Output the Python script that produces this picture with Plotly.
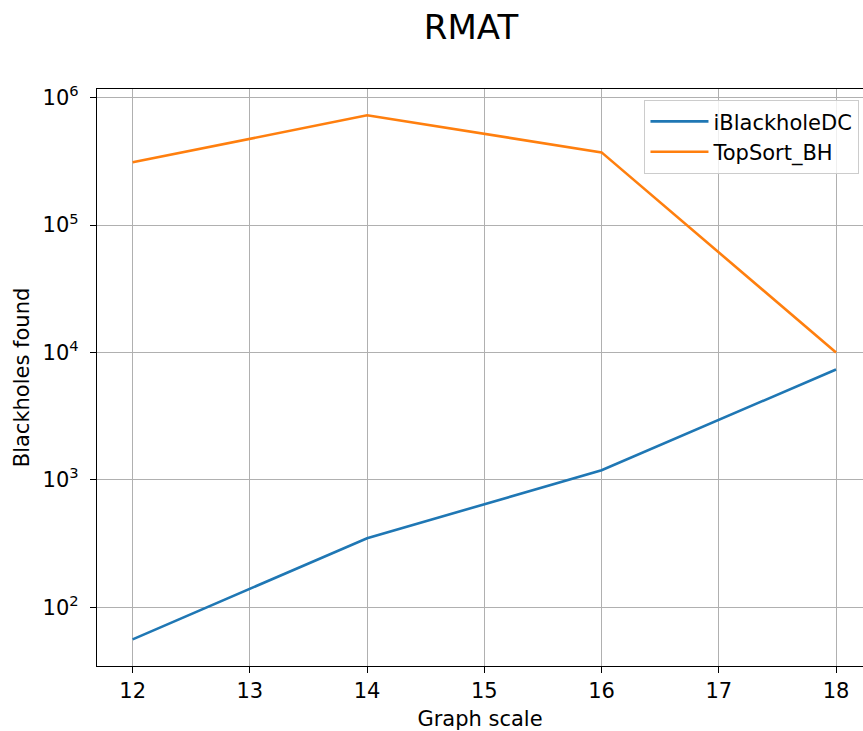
import plotly.graph_objects as go

scales = [12, 14, 16, 18]
iblackhole_dc = [56, 348, 1190, 7350]
topsort_bh = [311000, 727000, 372000, 10000]
x_ticks = [12, 13, 14, 15, 16, 17, 18]
y_ticks = [1e2, 1e3, 1e4, 1e5, 1e6]
y_tick_text = ["10<sup>2</sup>", "10<sup>3</sup>", "10<sup>4</sup>", "10<sup>5</sup>", "10<sup>6</sup>"]

fig = go.Figure()
fig.add_trace(go.Scatter(x=scales, y=iblackhole_dc, mode="lines", name="iBlackholeDC",
                         line=dict(color="#1f77b4", width=2.6)))
fig.add_trace(go.Scatter(x=scales, y=topsort_bh, mode="lines", name="TopSort_BH",
                         line=dict(color="#ff7f0e", width=2.6)))

font = "DejaVu Sans"
fs = 21
fig.update_layout(
    width=863, height=731,
    margin=dict(l=97, r=0, t=89, b=65),
    plot_bgcolor="white", paper_bgcolor="white",
    font=dict(family=font, size=fs, color="black"),
    title=dict(text="RMAT", x=471 / 863, xref="container", xanchor="center",
               y=1 - 27 / 731, yref="container",
               yanchor="middle", font=dict(family=font, size=34, color="black")),
    legend=dict(x=0.995, y=0.981, xanchor="right", yanchor="top",
                bgcolor="rgba(255,255,255,0.8)", bordercolor="#cccccc", borderwidth=1.3,
                font=dict(family=font, size=fs), tracegroupgap=0, itemwidth=58),
    showlegend=True,
)
fig.update_xaxes(range=[11.696, 18.23], tickvals=x_ticks, ticks="outside", ticklen=6,
                 tickwidth=1.3, tickcolor="black", showline=True, linecolor="black",
                 linewidth=1.3, mirror=True, tickfont=dict(family=font, size=fs),
                 showgrid=True, gridcolor="#b0b0b0", gridwidth=1.3, zeroline=False,
                 title=dict(text="Graph scale", font=dict(family=font, size=fs), standoff=9))
fig.update_yaxes(type="log", range=[1.539, 6.068], tickvals=y_ticks, ticktext=y_tick_text,
                 ticks="outside", ticklen=6, tickwidth=1.3, tickcolor="black", showline=True,
                 linecolor="black", linewidth=1.3, mirror=False, ticklabelstandoff=7,
                 tickfont=dict(family=font, size=fs),
                 showgrid=True, gridcolor="#b0b0b0", gridwidth=1.3, zeroline=False,
                 title=dict(text="Blackholes found", font=dict(family=font, size=fs), standoff=7))

fig.write_html("out.html")
